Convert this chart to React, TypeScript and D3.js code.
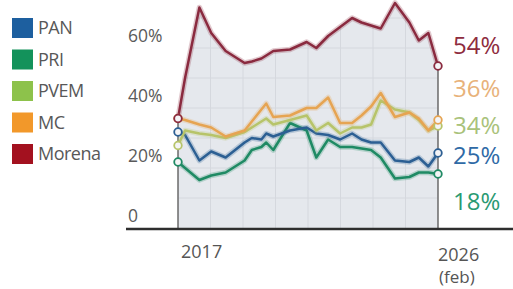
import React, { useEffect, useRef } from 'react';
import * as d3 from 'd3';

const dates = [
  '2017-01', '2017-04', '2017-10', '2018-03', '2018-09', '2019-05', '2019-08', '2019-12',
  '2020-02', '2020-05', '2020-12', '2021-07', '2021-11', '2022-04', '2022-09', '2023-02',
  '2023-06', '2023-10', '2024-02', '2024-08', '2025-02', '2025-06', '2025-10', '2026-02',
];

const parties = ['PAN', 'PRI', 'PVEM', 'MC', 'Morena'];

const pan = [32, 31, 22.5, 25.5, 23.5, 28.5, 30, 29.5, 31.5, 30.5, 32.5, 33.5, 31.5, 31, 29.5, 31.5, 29.5, 28.5, 28.5, 22.5, 22, 23.5, 20.5, 25];
const pri = [22, 20, 16, 17.5, 18.5, 22.5, 26, 27, 28.5, 26, 35, 32.5, 23.5, 29.5, 27, 27, 26.5, 26, 23.5, 16.5, 17, 18.5, 18.5, 18];
const pvem = [27.5, 32.5, 31.5, 31, 30, 32, 33.5, 35.5, 36.5, 34.5, 36, 37.5, 32.5, 35, 31.5, 33.5, 33.5, 34.5, 42.5, 39.5, 38.5, 36, 32.5, 34];
const mc = [36.5, 36, 34.5, 33.5, 30.5, 32.5, 35.5, 39.5, 41.5, 37, 37.5, 40, 40, 43.5, 35, 35, 37.5, 40.5, 45, 37, 38.5, 36.5, 32.5, 36];
const morena = [36.5, 50, 73.5, 65, 59, 55, 55.5, 56.5, 57.5, 59, 59.5, 62, 60, 64, 67, 70, 68.5, 67.5, 66.5, 75, 68.5, 62.5, 65, 54];

const endLabels = ['25%', '18%', '34%', '36%', '54%'];
const yTicks = [0, 20, 40, 60];
const xTickLabels = ['2017', '2026'];

const legendColors = ['#1d5f9f', '#13925b', '#8dc24b', '#f2982a', '#a3111f'];
const lineColors = ['#2c5f93', '#1f8a64', '#b7c46a', '#e6a452', '#8a2a3f'];
const labelColors = ['#2f6aa6', '#2a9a72', '#a9c27a', '#e8b27a', '#8e2c3e'];

export default function App() {
  const ref = useRef<SVGSVGElement>(null);

  useEffect(() => {
    const svg = d3.select(ref.current);
    svg.selectAll('*').remove();
    const font = "'Open Sans', sans-serif";
    const parse = d3.timeParse('%Y-%m');
    const xs = dates.map(d => parse(d) as Date);
    const series = [pan, pri, pvem, mc, morena];

    const x = d3.scaleTime().domain([xs[0], xs[xs.length - 1]]).range([178, 438]);
    const y = d3.scaleLinear().domain([0, 60]).range([228, 48]);

    // shaded area under Morena
    const area = d3.area<number>()
      .x((d, i) => x(xs[i]))
      .y0(y(0))
      .y1(d => y(d));
    svg.append('clipPath').attr('id', 'under')
      .append('path').attr('d', area(morena) as string);
    svg.append('path').attr('d', area(morena) as string).attr('fill', '#e5e8ed');

    const grid = svg.append('g').attr('clip-path', 'url(#under)')
      .attr('stroke', '#d5d8de').attr('stroke-width', 1);
    d3.range(0, 9).forEach(i => {
      const gx = 178 + i * (260 / 8);
      grid.append('line').attr('x1', gx).attr('x2', gx).attr('y1', 0).attr('y2', y(0));
    });
    d3.range(10, 80, 10).forEach(v => {
      grid.append('line').attr('x1', 178).attr('x2', 438).attr('y1', y(v)).attr('y2', y(v));
    });

    // edge verticals
    const last = xs.length - 1;
    [0, last].forEach(i => {
      svg.append('line').attr('x1', x(xs[i])).attr('x2', x(xs[i]))
        .attr('y1', y(morena[i])).attr('y2', y(0)).attr('stroke', '#6b6b6b').attr('stroke-width', 1.5);
    });

    // baseline
    svg.append('line').attr('x1', 126).attr('x2', 513).attr('y1', y(0) + 1).attr('y2', y(0) + 1)
      .attr('stroke', '#2e2e2e').attr('stroke-width', 2.5);

    // y labels
    svg.append('g').selectAll('text').data(yTicks).enter().append('text')
      .attr('x', 128).attr('y', d => y(d) - 6)
      .attr('font-family', font).attr('font-size', 17.5).attr('fill', '#5a5a5a')
      .text(d => d === 0 ? '0' : `${d}%`);

    // x labels
    svg.append('text').attr('x', x(xs[0]) + 3).attr('y', 258)
      .attr('font-family', font).attr('font-size', 18).attr('fill', '#555').text(xTickLabels[0]);
    svg.append('text').attr('x', x(xs[last])).attr('y', 261)
      .attr('font-family', font).attr('font-size', 18).attr('fill', '#555').text(xTickLabels[1]);
    svg.append('text').attr('x', x(xs[last]) + 1).attr('y', 283)
      .attr('font-family', font).attr('font-size', 17).attr('fill', '#555').text('(feb)');

    // lines
    const line = d3.line<number>().x((d, i) => x(xs[i])).y(d => y(d));
    const order = [1, 0, 2, 3, 4];
    order.forEach(k => {
      svg.append('path').attr('d', line(series[k]) as string).attr('fill', 'none')
        .attr('stroke', lineColors[k]).attr('stroke-opacity', 0.25).attr('stroke-width', 5.5)
        .attr('stroke-linejoin', 'round');
      svg.append('path').attr('d', line(series[k]) as string).attr('fill', 'none')
        .attr('stroke', lineColors[k]).attr('stroke-width', 2.5).attr('stroke-linejoin', 'round');
    });
    order.forEach(k => {
      [0, last].forEach(i => {
        svg.append('circle').attr('cx', x(xs[i])).attr('cy', y(series[k][i])).attr('r', 3.8)
          .attr('fill', '#f4f4f6').attr('stroke', lineColors[k]).attr('stroke-width', 1.8);
      });
    });

    // end labels (spread to avoid overlap)
    const labelShift = [2, 27, -1, -32, -21];
    series.forEach((s, k) => {
      svg.append('text').attr('x', 453).attr('y', y(s[last]) + labelShift[k] + 9)
        .attr('font-family', font).attr('font-size', 24).attr('fill', labelColors[k])
        .text(endLabels[k]);
    });

    // legend
    const lg = svg.append('g');
    parties.forEach((p, i) => {
      const ry = 18 + i * 31.5;
      lg.append('rect').attr('x', 12).attr('y', ry).attr('width', 21).attr('height', 20)
        .attr('fill', legendColors[i]);
      lg.append('text').attr('x', 38).attr('y', ry + 16)
        .attr('font-family', font).attr('font-size', 18).attr('fill', '#585858')
        .attr('letter-spacing', -0.5).text(p);
    });
  }, []);

  return (
    <svg ref={ref} width={513} height={289}
      style={{ position: 'absolute', left: 0, top: 0, background: '#fff' }} />
  );
}
